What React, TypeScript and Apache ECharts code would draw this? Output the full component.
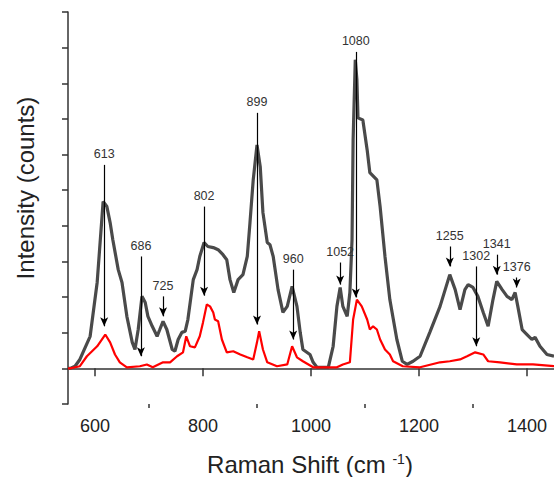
import React, { useEffect, useRef } from "react";
import * as echarts from "echarts";

// Raman shift (cm-1) and intensity of the dark grey spectrum
const grayShift = [550, 554, 563, 572, 591, 604, 613, 615, 622, 628, 633, 643, 650, 659, 669, 674, 680, 687, 693, 698, 706, 715, 720, 726, 733, 743, 748, 754, 761, 767, 772, 782, 789, 794, 802, 809, 819, 828, 837, 844, 850, 857, 865, 874, 882, 887, 893, 900, 906, 911, 919, 924, 930, 939, 948, 956, 965, 974, 980, 985, 998, 1004, 1011, 1032, 1041, 1048, 1054, 1059, 1067, 1072, 1076, 1078, 1082, 1085, 1087, 1096, 1104, 1109, 1122, 1128, 1137, 1146, 1159, 1169, 1178, 1189, 1202, 1220, 1239, 1257, 1267, 1276, 1285, 1291, 1300, 1309, 1319, 1328, 1337, 1344, 1354, 1363, 1372, 1378, 1383, 1391, 1400, 1409, 1415, 1424, 1437, 1450];
const grayIntensity = [0, 0, 0.06, 0.25, 0.9, 2.41, 4.26, 4.68, 4.54, 4.09, 3.61, 2.77, 2.41, 1.46, 0.73, 0.53, 1.09, 2.02, 1.85, 1.46, 1.18, 0.9, 1.09, 1.32, 1.09, 0.53, 0.48, 0.81, 1.01, 1.04, 1.37, 2.49, 2.77, 3.14, 3.53, 3.42, 3.39, 3.33, 3.19, 3.05, 2.49, 2.13, 2.49, 2.63, 3.14, 4.09, 5.29, 6.27, 5.66, 4.37, 3.53, 3.47, 3.14, 2.21, 1.57, 1.74, 2.3, 1.74, 1.01, 0.53, 0.39, 0.17, 0.03, 0.03, 0.62, 1.74, 2.27, 1.74, 1.46, 2.13, 3.61, 6.41, 8.66, 8.1, 7.03, 6.97, 6.13, 5.49, 5.29, 4.54, 3.14, 1.93, 0.81, 0.2, 0.11, 0.2, 0.34, 1.01, 1.74, 2.63, 2.21, 1.65, 2.21, 2.35, 2.27, 2.02, 1.57, 1.18, 1.93, 2.44, 2.21, 2.02, 1.93, 2.13, 1.74, 1.09, 0.95, 0.81, 0.87, 0.62, 0.39, 0.34];

// Raman shift (cm-1) and intensity of the red spectrum
const redShift = [550, 554, 572, 585, 604, 619, 628, 637, 646, 659, 683, 696, 707, 726, 739, 752, 763, 769, 776, 785, 794, 800, 807, 813, 819, 822, 828, 835, 844, 856, 869, 882, 893, 900, 904, 911, 919, 937, 956, 965, 974, 985, 1004, 1048, 1059, 1072, 1078, 1085, 1094, 1104, 1109, 1115, 1122, 1128, 1137, 1146, 1152, 1170, 1202, 1239, 1257, 1276, 1289, 1304, 1319, 1328, 1350, 1381, 1411, 1450];
const redIntensity = [0, 0, 0.06, 0.34, 0.62, 0.95, 0.73, 0.39, 0.17, 0.03, 0.06, 0.11, 0.03, 0.17, 0.17, 0.34, 0.45, 0.9, 0.62, 0.59, 0.9, 1.29, 1.79, 1.74, 1.57, 1.37, 1.32, 0.81, 0.45, 0.48, 0.39, 0.31, 0.25, 0.73, 1.04, 0.53, 0.17, 0.06, 0.11, 0.62, 0.31, 0.2, 0.03, 0.03, 0.11, 0.17, 1.37, 1.93, 1.74, 1.37, 1.09, 1.18, 1.09, 0.81, 0.53, 0.39, 0.2, 0.06, 0.03, 0.17, 0.2, 0.25, 0.34, 0.45, 0.39, 0.2, 0.17, 0.11, 0.11, 0.06];

// Peak annotations: label, arrow x, arrow top, arrow tip
const peakLabels = ["613", "686", "725", "802", "899", "960", "1052", "1080", "1255", "1302", "1341", "1376"];
const peakX = [617, 685, 726, 802, 900, 967, 1054, 1083, 1257, 1306, 1344, 1381];
const peakTop = [5.71, 3.14, 2.02, 4.54, 7.17, 2.77, 2.97, 8.88, 3.42, 2.86, 3.19, 2.55];
const peakTip = [1.18, 0.34, 1.46, 2.04, 1.23, 0.81, 2.35, 1.99, 2.86, 0.62, 2.63, 2.27];

// Axis ticks
const majorTicks = [600, 800, 1000, 1200, 1400];
const minorTicks = [700, 900, 1100, 1300];

const FONT = "'Liberation Sans', Arial, sans-serif";

export default function App() {
  const ref = useRef<HTMLDivElement>(null);

  useEffect(() => {
    document.body.style.margin = "0";
    document.body.style.overflow = "hidden";
    if (!ref.current) return;
    const chart = echarts.init(ref.current, undefined, { renderer: "svg" });

    const grayData = grayShift.map((x, i) => [x, grayIntensity[i]]);
    const redData = redShift.map((x, i) => [x, redIntensity[i]]);
    const arrows = peakLabels.map((lab, i) => [
      { name: lab, coord: [peakX[i], peakTop[i]] },
      { coord: [peakX[i], peakTip[i]] },
    ]);

    const axisColor = "#333";

    chart.setOption({
      animation: false,
      backgroundColor: "#fff",
      grid: { left: 68, right: 0, top: 12, bottom: 73 },
      xAxis: [
        {
          type: "value",
          min: 550,
          max: 1450,
          position: "bottom",
          axisLine: { show: true, lineStyle: { color: axisColor, width: 1.5 } },
          axisTick: { show: true, customValues: majorTicks, length: 8, lineStyle: { color: axisColor, width: 1.5 } },
          axisLabel: {
            show: true,
            customValues: majorTicks,
            formatter: (v: number) => String(v),
            margin: 13,
            fontSize: 18,
            color: "#222",
            fontFamily: FONT,
          },
          splitLine: { show: false },
        },
        {
          type: "value",
          min: 550,
          max: 1450,
          position: "bottom",
          axisLine: { show: false },
          axisTick: { show: true, customValues: minorTicks, length: 4, lineStyle: { color: axisColor, width: 1.5 } },
          axisLabel: { show: false },
          splitLine: { show: false },
        },
      ],
      yAxis: {
        type: "value",
        min: -1,
        max: 10,
        interval: 1,
        axisLine: { show: true, lineStyle: { color: axisColor, width: 1.5 } },
        axisTick: { show: true, length: 6, lineStyle: { color: axisColor, width: 1.5 } },
        axisLabel: { show: false },
        splitLine: { show: false },
      },
      graphic: [
        {
          type: "text",
          x: 25,
          y: 188,
          rotation: Math.PI / 2,
          style: {
            text: "Intensity (counts)",
            fontSize: 24,
            fontFamily: FONT,
            fill: "#222",
            align: "center",
            verticalAlign: "middle",
          },
        },
        {
          type: "text",
          x: 310,
          y: 464,
          style: {
            text: "{a|Raman Shift (cm }{s|-1}{a|)}",
            rich: {
              a: { fontSize: 24, fontFamily: FONT, fill: "#222" },
              s: { fontSize: 14, fontFamily: FONT, fill: "#222", verticalAlign: "top" },
            },
            align: "center",
            verticalAlign: "middle",
          },
        },
      ],
      series: [
        {
          type: "line",
          data: grayData,
          showSymbol: false,
          symbol: "none",
          lineStyle: { color: "#4a4a4a", width: 3.2 },
          z: 2,
        },
        {
          type: "line",
          data: redData,
          showSymbol: false,
          symbol: "none",
          lineStyle: { color: "#ff0000", width: 2.2 },
          z: 3,
          markLine: {
            silent: true,
            symbol: ["none", "arrow"],
            symbolSize: [6, 9],
            lineStyle: { color: "#000", width: 1.2, type: "solid" },
            label: {
              show: true,
              position: "start",
              formatter: "{b}",
              fontSize: 12.5,
              color: "#333",
              fontFamily: FONT,
              distance: 4,
            },
            data: arrows,
          },
        },
      ],
    });

    return () => chart.dispose();
  }, []);

  return <div ref={ref} style={{ width: 554, height: 477 }} />;
}
